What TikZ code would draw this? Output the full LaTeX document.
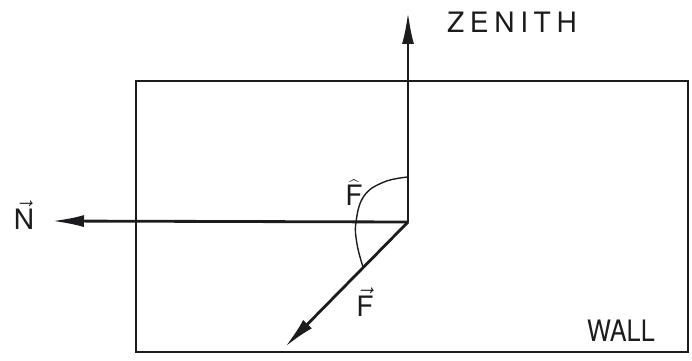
\documentclass[tikz,border=0pt]{standalone}
\usepackage{fontspec}
\setsansfont{TeX Gyre Heros}
\usepackage{xcolor}
\usepackage{tikz}
\usetikzlibrary{arrows.meta}
\definecolor{ink}{RGB}{28,28,30}

\begin{document}
\begin{tikzpicture}[x=0.02cm, y=-0.02cm, line width=1.6pt, ink,
    vecline/.style={-{Latex[length=0.64cm, width=0.24cm]}},
    tag/.style={font=\sffamily\fontsize{16}{18}\selectfont, text=ink, inner sep=0pt}]
  \useasboundingbox (0,0) rectangle (692,361);
  % the wall
  \draw (136,81) rectangle (688,352);
  \coordinate (orig) at (408,222);
  \coordinate (zen) at (408,12);
  \coordinate (nrm) at (52,221);
  \coordinate (fce) at (285,347);
  \draw[vecline] (orig) -- (zen);
  \draw[vecline] (orig) -- (nrm);
  \draw[vecline] (orig) -- (fce);
  % angle mark
  \draw[line width=0.8pt] plot[smooth, tension=0.7] coordinates
    {(408,177) (384,182) (364,196) (356,222) (357,244) (363,267)};
  \node[tag] (zenlbl) at (512,22) {\addfontfeature{LetterSpace=20}ZENITH};
  \node[tag, xscale=0.9, yscale=1.05] (walllbl) at (621,331) {WALL};
  \node[tag] (fhat) at (354,193) {$\widehat{\mathsf{F}}$};
  \node[tag] (fvec) at (365,302) {$\vec{\mathsf{F}}$};
  \node[tag] (nvec) at (24,215) {$\vec{\mathsf{N}}$};
\end{tikzpicture}
\end{document}
